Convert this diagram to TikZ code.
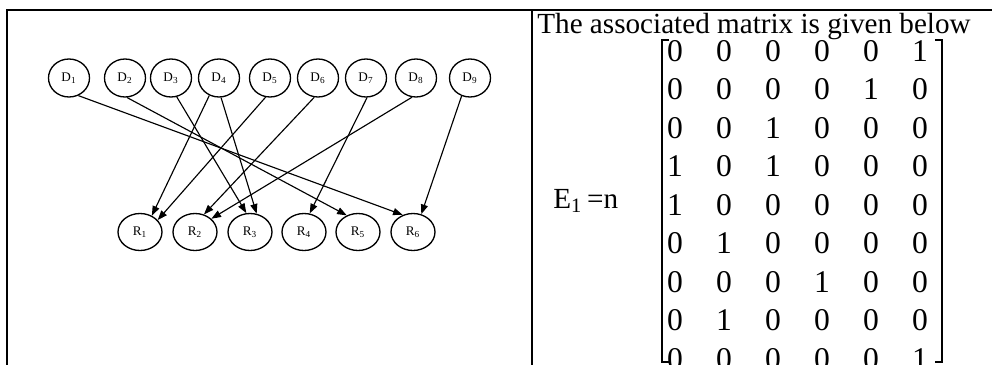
\documentclass[tikz,border=0pt]{standalone}
\usepackage{fontspec}
\setmainfont{Liberation Serif}
\usetikzlibrary{shapes.geometric,arrows.meta}

\begin{document}
\begin{tikzpicture}[x=0.02cm, y=-0.02cm]
    \tikzset{
        vnode/.style={draw, ellipse, line width=0.75pt, inner sep=0pt, font=\fontsize{7.5}{8}\selectfont},
        dnode/.style={vnode, minimum width=0.82cm, minimum height=0.76cm},
        rnode/.style={vnode, minimum width=0.88cm, minimum height=0.74cm},
        edge/.style={-{Triangle[length=5.5pt, width=4pt]}, line width=0.65pt},
        frame/.style={line width=1.2pt},
        entry/.style={font=\fontsize{18}{20}\selectfont, inner sep=0pt}
    }
    \useasboundingbox (0,0) rectangle (992,365);

    % --- Marco de la tabla ---
    \draw[frame] (6,10) -- (992,10);
    \draw[frame] (7,10) -- (7,365);
    \draw[frame] (532,10) -- (532,365);

    % --- Grafo bipartito ---
    \foreach \x [count=\i] in {69,125,171,219,270,318,366,416,470}
        \node[dnode] (D\i) at (\x,78) {D\textsubscript{\i}};
    \foreach \x [count=\i] in {140,195,250,304,358,413}
        \node[rnode] (R\i) at (\x,232) {R\textsubscript{\i}};

    % Aristas D -> R
    \foreach \a/\b/\s/\e in {1/6/298/121, 2/5/276/124, 3/3/287/101, 4/1/241/54, 4/3/276/70,
                             5/1/257/34, 6/2/259/63, 7/4/273/73, 8/2/258/39, 9/6/245/65}
        \draw[edge] (D\a.\s) -- (R\b.\e);

    % --- Matriz asociada ---
    \node[anchor=base west, inner sep=0pt, font=\fontsize{16.6}{20}\selectfont] (title) at (537,33)
        {The associated matrix is given below};
    \node[anchor=west, inner sep=0pt, font=\fontsize{16.6}{20}\selectfont] (lhs) at (553,201)
        {E\textsubscript{1}\,=n};

    \foreach \row [count=\i] in {{0,0,0,0,0,1},{0,0,0,0,1,0},{0,0,1,0,0,0},{1,0,1,0,0,0},{1,0,0,0,0,0},
                                 {0,1,0,0,0,0},{0,0,0,1,0,0},{0,1,0,0,0,0},{0,0,0,0,0,1}}
        \foreach \v [count=\j] in \row
            \node[entry] (m\i\j) at ({675+49*(\j-1)}, {51+38.5*(\i-1)}) {\v};

    % Corchetes
    \draw[line width=1.7pt] (669,40) -- (662,40) -- (662,362) -- (669,362);
    \draw[line width=1.7pt] (935,40) -- (942,40) -- (942,362) -- (935,362);
\end{tikzpicture}
\end{document}
